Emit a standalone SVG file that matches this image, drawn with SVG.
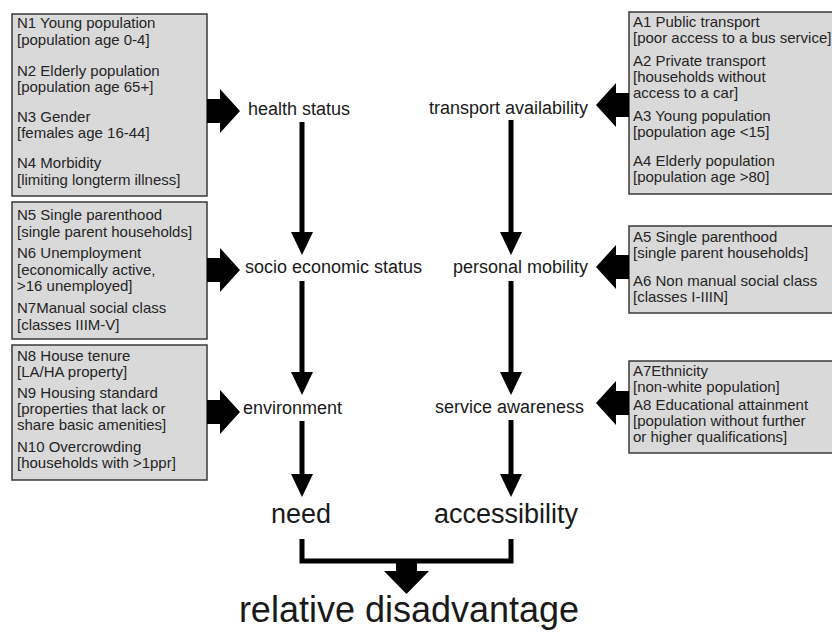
<svg xmlns="http://www.w3.org/2000/svg" width="832" height="632" viewBox="0 0 832 632">
<style>
.box{fill:#d9d9d9;stroke:#3a3a3a;stroke-width:1.5}
.bt{font-family:"Liberation Sans",Arial,sans-serif;font-size:15px;fill:#252525}
.lbl{font-family:"Liberation Sans",Arial,sans-serif;font-size:18px;fill:#1a1a1a}
.big{font-family:"Liberation Sans",Arial,sans-serif;font-size:27px;fill:#1a1a1a}
.huge{font-family:"Liberation Sans",Arial,sans-serif;font-size:36px;fill:#1a1a1a}
.ln{stroke:#000;stroke-width:5;fill:none}
.fat{fill:#000}
</style>
<defs>
<marker id="ah" markerUnits="userSpaceOnUse" markerWidth="23" markerHeight="22" viewBox="0 0 23 22" refX="0" refY="11" orient="auto">
<path d="M0,0 L23,11 L0,22 Z" fill="#000"/>
</marker>
<path id="fa" d="M0,-12 H13 V-22 L33,0 L13,22 V12 H0 Z"/>
</defs>
<rect width="832" height="632" fill="#fff"/>

<g id="box-n1-n4">
<rect class="box" x="12" y="14" width="195" height="182"/>
<text class="bt" x="17" y="28">N1 Young population</text>
<text class="bt" x="17" y="45">[population age 0-4]</text>
<text class="bt" x="17" y="76">N2 Elderly population</text>
<text class="bt" x="17" y="92">[population age 65+]</text>
<text class="bt" x="17" y="122">N3 Gender</text>
<text class="bt" x="17" y="138">[females age 16-44]</text>
<text class="bt" x="17" y="168">N4 Morbidity</text>
<text class="bt" x="17" y="185">[limiting longterm illness]</text>
</g>
<g id="box-n5-n7">
<rect class="box" x="12" y="202" width="195" height="137"/>
<text class="bt" x="17" y="220">N5 Single parenthood</text>
<text class="bt" x="17" y="237">[single parent households]</text>
<text class="bt" x="17" y="258">N6 Unemployment</text>
<text class="bt" x="17" y="275">[economically active,</text>
<text class="bt" x="17" y="291">&gt;16 unemployed]</text>
<text class="bt" x="17" y="313">N7Manual social class</text>
<text class="bt" x="17" y="330">[classes IIIM-V]</text>
</g>
<g id="box-n8-n10">
<rect class="box" x="12" y="345" width="195" height="135"/>
<text class="bt" x="17" y="361">N8 House tenure</text>
<text class="bt" x="17" y="377">[LA/HA property]</text>
<text class="bt" x="17" y="398">N9 Housing standard</text>
<text class="bt" x="17" y="414">[properties that lack or</text>
<text class="bt" x="17" y="430">share basic amenities]</text>
<text class="bt" x="17" y="452">N10 Overcrowding</text>
<text class="bt" x="17" y="468">[households with &gt;1ppr]</text>
</g>

<g id="box-a1-a4">
<rect class="box" x="629" y="12" width="206" height="182"/>
<text class="bt" x="633" y="27">A1 Public transport</text>
<text class="bt" x="633" y="43">[poor access to a bus service]</text>
<text class="bt" x="633" y="66">A2 Private transport</text>
<text class="bt" x="633" y="82">[households without</text>
<text class="bt" x="633" y="98">access to a car]</text>
<text class="bt" x="633" y="121">A3 Young population</text>
<text class="bt" x="633" y="137">[population age &lt;15]</text>
<text class="bt" x="633" y="166">A4 Elderly population</text>
<text class="bt" x="633" y="182">[population age &gt;80]</text>
</g>
<g id="box-a5-a6">
<rect class="box" x="629" y="226" width="206" height="87"/>
<text class="bt" x="633" y="242">A5 Single parenthood</text>
<text class="bt" x="633" y="258">[single parent households]</text>
<text class="bt" x="633" y="286">A6 Non manual social class</text>
<text class="bt" x="633" y="302">[classes I-IIIN]</text>
</g>
<g id="box-a7-a8">
<rect class="box" x="629" y="361" width="206" height="92"/>
<text class="bt" x="633" y="376">A7Ethnicity</text>
<text class="bt" x="633" y="392">[non-white population]</text>
<text class="bt" x="633" y="410">A8 Educational attainment</text>
<text class="bt" x="633" y="426">[population without further</text>
<text class="bt" x="633" y="442">or higher qualifications]</text>
</g>

<g id="health-status"><text class="lbl" x="248" y="115">health status</text></g>
<g id="socio-economic-status"><text class="lbl" x="245" y="273">socio economic status</text></g>
<g id="environment"><text class="lbl" x="243" y="414">environment</text></g>
<g id="transport-availability"><text class="lbl" x="429" y="114">transport availability</text></g>
<g id="personal-mobility"><text class="lbl" x="453" y="273">personal mobility</text></g>
<g id="service-awareness"><text class="lbl" x="435" y="413">service awareness</text></g>
<g id="need"><text class="big" x="301" y="523" text-anchor="middle">need</text></g>
<g id="accessibility"><text class="big" x="506" y="523" text-anchor="middle">accessibility</text></g>
<g id="relative-disadvantage"><text class="huge" x="409" y="622" text-anchor="middle">relative disadvantage</text></g>

<g id="connectors">
<use href="#fa" class="fat" transform="translate(207,111)"/>
<use href="#fa" class="fat" transform="translate(207,270)"/>
<use href="#fa" class="fat" transform="translate(207,412)"/>
<use href="#fa" class="fat" transform="translate(629,105) scale(-1,1)"/>
<use href="#fa" class="fat" transform="translate(629,267) scale(-1,1)"/>
<use href="#fa" class="fat" transform="translate(629,403) scale(-1,1)"/>
<line class="ln" x1="302" y1="122" x2="302" y2="232" marker-end="url(#ah)"/>
<line class="ln" x1="302" y1="281" x2="302" y2="372" marker-end="url(#ah)"/>
<line class="ln" x1="302" y1="421" x2="302" y2="474" marker-end="url(#ah)"/>
<line class="ln" x1="511" y1="120" x2="511" y2="232" marker-end="url(#ah)"/>
<line class="ln" x1="511" y1="281" x2="511" y2="372" marker-end="url(#ah)"/>
<line class="ln" x1="511" y1="420" x2="511" y2="474" marker-end="url(#ah)"/>
<path class="ln" d="M302,539 V561 H511 V539"/>
<polygon class="fat" points="396,563 417,563 417,571 429,571 406.5,594 384,571 396,571"/>
</g>
</svg>
